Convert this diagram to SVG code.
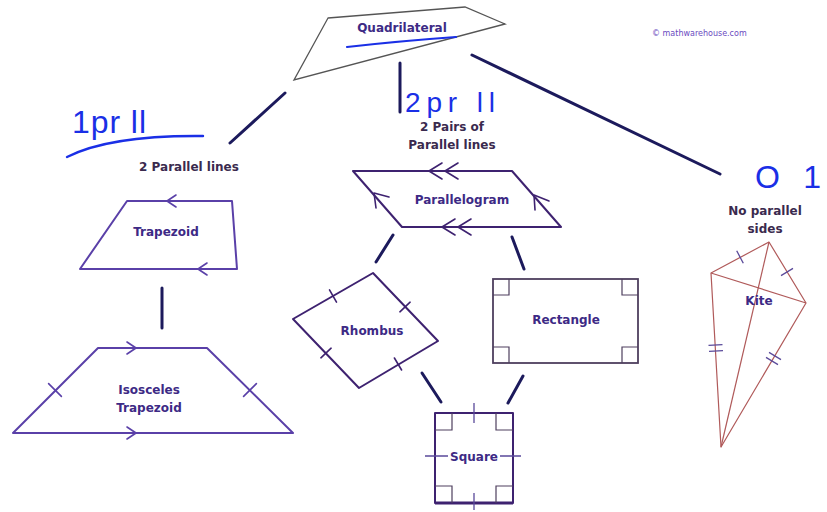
<svg xmlns="http://www.w3.org/2000/svg" width="827" height="512" viewBox="0 0 827 512">
<style>
.lbl{font-family:"DejaVu Sans",Verdana,sans-serif;font-weight:bold;font-size:12px;fill:#3d2a85;text-anchor:middle}
.cat{font-family:"DejaVu Sans",Verdana,sans-serif;font-weight:bold;font-size:12px;fill:#3a2a4e;text-anchor:middle}
.hand{font-family:"Liberation Sans",Arial,sans-serif;fill:#1a2fe6}
.conn{stroke:#1c1a5c;stroke-width:3;stroke-linecap:round;fill:none}
.shp{fill:none;stroke:#3e2270;stroke-width:2;stroke-linejoin:round}
.trap{fill:none;stroke:#5a40a8;stroke-width:2;stroke-linejoin:round}
.mk{fill:none;stroke:#3e2270;stroke-width:1.6;stroke-linecap:round;stroke-linejoin:round}
.mkt{fill:none;stroke:#5a40a8;stroke-width:1.6;stroke-linecap:round;stroke-linejoin:round}
.kite{fill:none;stroke:#b05a5a;stroke-width:1.2;stroke-linejoin:round}
.kmk{fill:none;stroke:#5a4a9a;stroke-width:1.3}
.rect{fill:none;stroke:#4e3f5e;stroke-width:1.8}
.box{fill:none;stroke:#4e3f5e;stroke-width:1.2}
</style>

<g id="connectors">
<line class="conn" x1="285" y1="93" x2="230" y2="143"/>
<line class="conn" x1="400" y1="63" x2="400" y2="112"/>
<line class="conn" x1="472" y1="55" x2="720" y2="174"/>
<line class="conn" x1="162" y1="288" x2="162" y2="328"/>
<line class="conn" x1="393" y1="235" x2="376" y2="262"/>
<line class="conn" x1="512" y1="237" x2="524" y2="269"/>
<line class="conn" x1="422" y1="373" x2="441" y2="402"/>
<line class="conn" x1="523" y1="376" x2="508" y2="403"/>
</g>

<g id="quadrilateral">
<polygon points="328,18 465,7 505,24 294,80" fill="none" stroke="#555" stroke-width="1.3"/>
<text class="lbl" x="402" y="32" font-size="13">Quadrilateral</text>
<path d="M347,47 Q400,41 456,37" fill="none" stroke="#1a2fe6" stroke-width="2.2" stroke-linecap="round"/>
</g>

<g id="credit">
<text x="652" y="36" font-family="'DejaVu Sans',Verdana,sans-serif" font-size="8" fill="#6a4ac0">© mathwarehouse.com</text>
</g>

<g id="one-pair">
<text class="hand" x="72" y="133" font-size="32" textLength="74">1pr ll</text>
<path d="M67,157 Q110,135 203,136" fill="none" stroke="#1a2fe6" stroke-width="2.4" stroke-linecap="round"/>
<text class="cat" x="189" y="171">2 Parallel lines</text>
</g>

<g id="trapezoid">
<polygon class="trap" points="127,201 232,201 237,269 80,269"/>
<polyline class="mkt" points="176,195 167,201 176,207"/>
<polyline class="mkt" points="207,263 198,269 207,275"/>
<text class="lbl" x="166" y="236">Trapezoid</text>
</g>

<g id="isosceles-trapezoid">
<polygon class="trap" points="98,348 207,348 293,433 13,433"/>
<polyline class="mkt" points="127,342 136,348 127,354"/>
<polyline class="mkt" points="127,427 136,433 127,439"/>
<line class="mkt" x1="48.6" y1="383.6" x2="61.4" y2="396.4"/>
<line class="mkt" x1="243.6" y1="396.4" x2="256.4" y2="383.6"/>
<text class="lbl" x="149" y="394">Isosceles</text>
<text class="lbl" x="149" y="412">Trapezoid</text>
</g>

<g id="two-pairs">
<text class="hand" x="405" y="112" font-size="28" textLength="90">2pr ll</text>
<text class="cat" x="452" y="131">2 Pairs of</text>
<text class="cat" x="452" y="149">Parallel lines</text>
</g>

<g id="parallelogram">
<polygon class="shp" points="353,171 512,171 561,227 402,227"/>
<polyline class="mk" points="442,163 429,171 442,179"/>
<polyline class="mk" points="458,163 445,171 458,179"/>
<polyline class="mk" points="455,219 442,227 455,235"/>
<polyline class="mk" points="471,219 458,227 471,235"/>
<polyline class="mk" points="389,197 374,193 376,208"/>
<polyline class="mk" points="549,201 534,195 535,210"/>
<text class="lbl" x="462" y="204">Parallelogram</text>
</g>

<g id="rhombus">
<polygon class="shp" points="373,273 438,341 359,388 293,319"/>
<line class="mk" x1="329.5" y1="289.9" x2="336.5" y2="302.1"/>
<line class="mk" x1="399.9" y1="311.8" x2="410.1" y2="302.2"/>
<line class="mk" x1="320.9" y1="357.8" x2="331.1" y2="348.2"/>
<line class="mk" x1="394.4" y1="358" x2="401.6" y2="370"/>
<text class="lbl" x="372" y="335">Rhombus</text>
</g>

<g id="rectangle">
<rect class="rect" x="493" y="279" width="145" height="84"/>
<path class="box" d="M493,295 H509 V279 M622,279 V295 H638 M493,347 H509 V363 M622,363 V347 H638"/>
<text class="lbl" x="566" y="324">Rectangle</text>
</g>

<g id="square">
<rect class="shp" x="435" y="413" width="78" height="90"/>
<line x1="435" y1="503" x2="513" y2="503" stroke="#3e2270" stroke-width="3"/>
<path class="box" d="M435,430 H452 V413 M496,413 V430 H513 M435,486 H452 V503 M496,503 V486 H513" stroke="#3e2270"/>
<path class="kmk" d="M474,403 V423 M474,493 V510 M425,456 H448 M500,456 H521"/>
<text class="lbl" x="474" y="461">Square</text>
</g>

<g id="no-parallel">
<text class="hand" x="755" y="188" font-size="32" textLength="66">O 1</text>
<text class="cat" x="765" y="215">No parallel</text>
<text class="cat" x="765" y="233">sides</text>
</g>

<g id="kite">
<polygon class="kite" points="769,242 806,303 721,447 711,273"/>
<line class="kite" x1="711" y1="273" x2="806" y2="303"/>
<line class="kite" x1="769" y1="242" x2="721" y2="447"/>
<line class="kmk" x1="736.7" y1="250.8" x2="743.3" y2="263.2"/>
<line class="kmk" x1="781" y1="275.6" x2="793" y2="268.4"/>
<line class="kmk" x1="708.5" y1="345.4" x2="722.5" y2="344.6"/>
<line class="kmk" x1="709" y1="351.4" x2="723" y2="350.6"/>
<line class="kmk" x1="769" y1="352.4" x2="781" y2="359.6"/>
<line class="kmk" x1="766" y1="357.4" x2="778" y2="364.6"/>
<text class="lbl" x="759" y="305">Kite</text>
</g>
</svg>
